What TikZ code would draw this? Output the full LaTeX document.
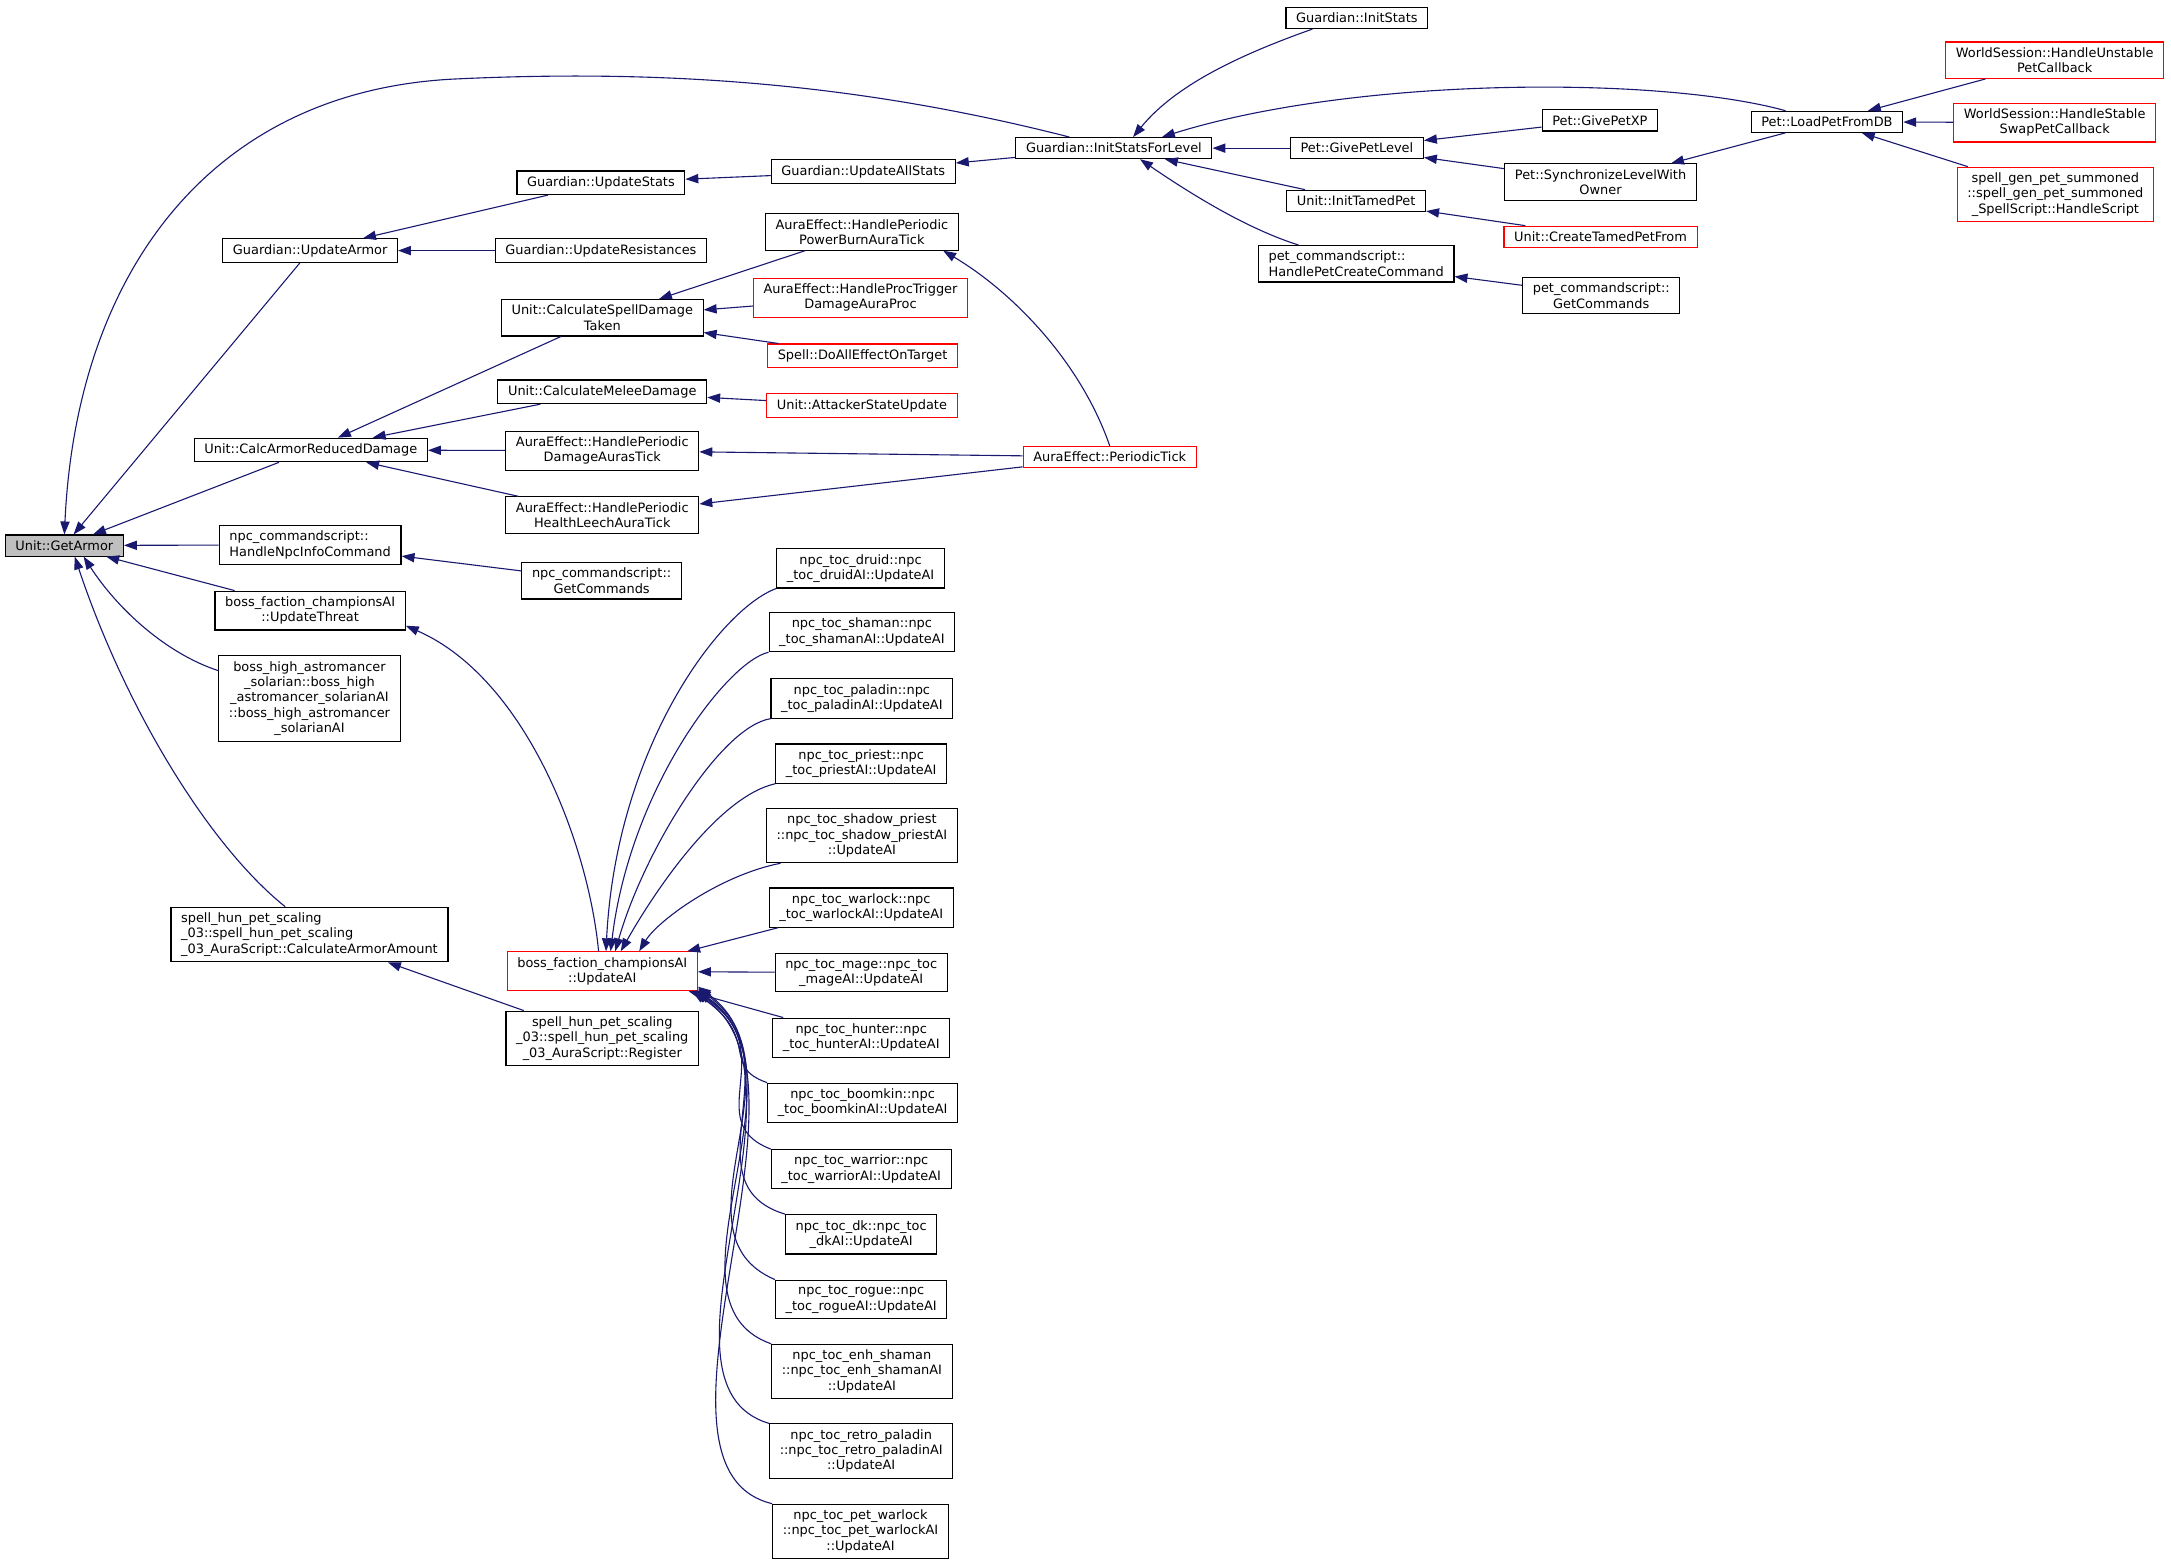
\documentclass[tikz,border=0pt]{standalone}
\usepackage{fontspec}
\setmainfont{DejaVu Sans}
\usetikzlibrary{arrows.meta}
\definecolor{edgeblue}{RGB}{25,25,112}
\definecolor{curgray}{RGB}{191,191,191}

\begin{document}
\begin{tikzpicture}[
        x=0.75pt, y=-0.75pt,
        box/.style={rectangle, draw=black, fill=white, line width=0.6pt, inner xsep=5.5pt, inner ysep=3pt, align=center, font=\fontsize{7}{8.3}\selectfont},
        redbox/.style={box, draw=red},
        curbox/.style={box, fill=curgray},
        arrow/.style={-{Triangle[length=7pt, width=5pt]}, line width=0.6pt, edgeblue}
    ]
        \useasboundingbox (0,0) rectangle (1568,1130);

        % Root
        \node[curbox] (GetArmor) at (46.5,394) {Unit::GetArmor};

        % First level
        \node[box] (UpdateArmor) at (224,181) {Guardian::UpdateArmor};
        \node[box] (CalcArmor) at (224.5,325) {Unit::CalcArmorReducedDamage};
        \node[box, align=left] (NpcInfo) at (224,393.5) {npc\_commandscript::\\HandleNpcInfoCommand};
        \node[box] (UpdateThreat) at (224,441) {boss\_faction\_championsAI\\::UpdateThreat};
        \node[box] (Astromancer) at (223.5,504.5) {boss\_high\_astromancer\\\_solarian::boss\_high\\\_astromancer\_solarianAI\\::boss\_high\_astromancer\\\_solarianAI};
        \node[box, align=left] (ArmorAmount) at (223.5,675) {spell\_hun\_pet\_scaling\\\_03::spell\_hun\_pet\_scaling\\\_03\_AuraScript::CalculateArmorAmount};

        % Second level
        \node[box] (UpdateStats) at (434,132) {Guardian::UpdateStats};
        \node[box] (UpdateRes) at (434,181) {Guardian::UpdateResistances};
        \node[box] (SpellDmgTaken) at (435,229.5) {Unit::CalculateSpellDamage\\Taken};
        \node[box] (MeleeDmg) at (435,283) {Unit::CalculateMeleeDamage};
        \node[box] (DmgAurasTick) at (435,325.5) {AuraEffect::HandlePeriodic\\DamageAurasTick};
        \node[box] (LeechTick) at (435,372) {AuraEffect::HandlePeriodic\\HealthLeechAuraTick};
        \node[box] (NpcGetCmds) at (434.5,419.5) {npc\_commandscript::\\GetCommands};
        \node[redbox] (UpdateAI) at (435,701.5) {boss\_faction\_championsAI\\::UpdateAI};
        \node[box] (Register) at (435,750) {spell\_hun\_pet\_scaling\\\_03::spell\_hun\_pet\_scaling\\\_03\_AuraScript::Register};

        % Third level
        \node[box] (UpdateAllStats) at (623.5,124) {Guardian::UpdateAllStats};
        \node[box] (PowerBurn) at (622.5,167.5) {AuraEffect::HandlePeriodic\\PowerBurnAuraTick};
        \node[redbox] (ProcTrigger) at (621.5,215) {AuraEffect::HandleProcTrigger\\DamageAuraProc};
        \node[redbox] (DoAllEffect) at (623,257) {Spell::DoAllEffectOnTarget};
        \node[redbox] (AttackerState) at (622.5,293) {Unit::AttackerStateUpdate};
        \node[box] (druid) at (621.5,410.5) {npc\_toc\_druid::npc\\\_toc\_druidAI::UpdateAI};
        \node[box] (shaman) at (622.5,456.5) {npc\_toc\_shaman::npc\\\_toc\_shamanAI::UpdateAI};
        \node[box] (paladin) at (622.5,504.5) {npc\_toc\_paladin::npc\\\_toc\_paladinAI::UpdateAI};
        \node[box] (priest) at (622,551.5) {npc\_toc\_priest::npc\\\_toc\_priestAI::UpdateAI};
        \node[box] (shadow) at (622.5,603.5) {npc\_toc\_shadow\_priest\\::npc\_toc\_shadow\_priestAI\\::UpdateAI};
        \node[box] (warlock) at (622,655.5) {npc\_toc\_warlock::npc\\\_toc\_warlockAI::UpdateAI};
        \node[box] (mage) at (622,702.5) {npc\_toc\_mage::npc\_toc\\\_mageAI::UpdateAI};
        \node[box] (hunter) at (622,749.5) {npc\_toc\_hunter::npc\\\_toc\_hunterAI::UpdateAI};
        \node[box] (boomkin) at (623,796.5) {npc\_toc\_boomkin::npc\\\_toc\_boomkinAI::UpdateAI};
        \node[box] (warrior) at (622,844.5) {npc\_toc\_warrior::npc\\\_toc\_warriorAI::UpdateAI};
        \node[box] (dk) at (622,891.5) {npc\_toc\_dk::npc\_toc\\\_dkAI::UpdateAI};
        \node[box] (rogue) at (622,938.5) {npc\_toc\_rogue::npc\\\_toc\_rogueAI::UpdateAI};
        \node[box] (enh) at (622.5,990.5) {npc\_toc\_enh\_shaman\\::npc\_toc\_enh\_shamanAI\\::UpdateAI};
        \node[box] (retro) at (622,1048) {npc\_toc\_retro\_paladin\\::npc\_toc\_retro\_paladinAI\\::UpdateAI};
        \node[box] (petwarlock) at (621.5,1106) {npc\_toc\_pet\_warlock\\::npc\_toc\_pet\_warlockAI\\::UpdateAI};

        % Fourth level
        \node[box] (InitSFL) at (804.5,107) {Guardian::InitStatsForLevel};
        \node[redbox] (PeriodicTick) at (801.5,330) {AuraEffect::PeriodicTick};

        % Fifth level
        \node[box] (InitStats) at (980,13) {Guardian::InitStats};
        \node[box] (GivePetLevel) at (980,107) {Pet::GivePetLevel};
        \node[box] (InitTamedPet) at (979.5,145) {Unit::InitTamedPet};
        \node[box, align=left] (PetCreateCmd) at (979.5,190.5) {pet\_commandscript::\\HandlePetCreateCommand};

        % Sixth level
        \node[box] (GivePetXP) at (1155.5,87) {Pet::GivePetXP};
        \node[box] (SyncLevel) at (1156,131.5) {Pet::SynchronizeLevelWith\\Owner};
        \node[redbox] (CreateTamedPet) at (1156,171) {Unit::CreateTamedPetFrom};
        \node[box] (PetGetCmds) at (1156.5,213.5) {pet\_commandscript::\\GetCommands};

        % Last levels
        \node[box] (LoadPet) at (1319.5,88) {Pet::LoadPetFromDB};
        \node[redbox] (Unstable) at (1484,43.5) {WorldSession::HandleUnstable\\PetCallback};
        \node[redbox] (StableSwap) at (1484,88.5) {WorldSession::HandleStable\\SwapPetCallback};
        \node[redbox] (SpellGenPet) at (1484.5,140.5) {spell\_gen\_pet\_summoned\\::spell\_gen\_pet\_summoned\\\_SpellScript::HandleScript};

        % Callers of Unit::GetArmor
        \draw[arrow] (InitSFL.166) .. controls (620,60) and (480,50) .. (330,57) .. controls (150,65) and (55,200) .. (GetArmor.north);
        \draw[arrow] (UpdateArmor) -- (GetArmor);
        \draw[arrow] (CalcArmor) -- (GetArmor);
        \draw[arrow] (NpcInfo) -- (GetArmor);
        \draw[arrow] (UpdateThreat) -- (GetArmor);
        \draw[arrow] (Astromancer.163) .. controls (120,472) and (85,440) .. (GetArmor.-30);
        \draw[arrow] (ArmorAmount.131) .. controls (150,610) and (90,510) .. (GetArmor.-47);

        % Stats chain
        \draw[arrow] (UpdateStats) -- (UpdateArmor);
        \draw[arrow] (UpdateRes) -- (UpdateArmor);
        \draw[arrow] (UpdateAllStats) -- (UpdateStats);
        \draw[arrow] (InitSFL) -- (UpdateAllStats);
        \draw[arrow] (InitStats.194) .. controls (900,38) and (850,60) .. (InitSFL.30);
        \draw[arrow] (GivePetLevel) -- (InitSFL);
        \draw[arrow] (InitTamedPet) -- (InitSFL);
        \draw[arrow] (PetCreateCmd.162) .. controls (900,165) and (860,140) .. (InitSFL.-23);
        \draw[arrow] (LoadPet.165) .. controls (1200,55) and (980,55) .. (InitSFL.13);
        \draw[arrow] (GivePetXP) -- (GivePetLevel);
        \draw[arrow] (SyncLevel) -- (GivePetLevel);
        \draw[arrow] (LoadPet) -- (SyncLevel);
        \draw[arrow] (CreateTamedPet) -- (InitTamedPet);
        \draw[arrow] (PetGetCmds) -- (PetCreateCmd);
        \draw[arrow] (Unstable) -- (LoadPet);
        \draw[arrow] (StableSwap) -- (LoadPet);
        \draw[arrow] (SpellGenPet) -- (LoadPet);

        % Damage chain
        \draw[arrow] (SpellDmgTaken) -- (CalcArmor);
        \draw[arrow] (MeleeDmg) -- (CalcArmor);
        \draw[arrow] (DmgAurasTick) -- (CalcArmor);
        \draw[arrow] (LeechTick) -- (CalcArmor);
        \draw[arrow] (PowerBurn) -- (SpellDmgTaken);
        \draw[arrow] (ProcTrigger) -- (SpellDmgTaken);
        \draw[arrow] (DoAllEffect) -- (SpellDmgTaken);
        \draw[arrow] (AttackerState) -- (MeleeDmg);
        \draw[arrow] (PeriodicTick) -- (DmgAurasTick);
        \draw[arrow] (PeriodicTick) -- (LeechTick);
        \draw[arrow] (PeriodicTick.north) .. controls (780,260) and (730,210) .. (PowerBurn.-13);

        % Scripts
        \draw[arrow] (NpcGetCmds) -- (NpcInfo);
        \draw[arrow] ([xshift=-2pt]UpdateAI.north) .. controls (425,610) and (380,490) .. (UpdateThreat.-9);
        \draw[arrow] (Register) -- (ArmorAmount);

        % Callers of UpdateAI
        \draw[arrow] (druid.south west) .. controls (520,440) and (445,540) .. ([xshift=2pt]UpdateAI.north);
        \draw[arrow] (shaman.south west) .. controls (525,478) and (455,570) .. ([xshift=4.5pt]UpdateAI.north);
        \draw[arrow] (paladin.south west) .. controls (520,525) and (465,615) .. ([xshift=7pt]UpdateAI.north);
        \draw[arrow] (priest.south west) .. controls (520,575) and (475,640) .. ([xshift=10pt]UpdateAI.north);
        \draw[arrow] ([xshift=8pt]shadow.south west) .. controls (520,632) and (475,665) .. ([xshift=20pt]UpdateAI.north);
        \draw[arrow] ([xshift=5pt]warlock.south west) -- ([xshift=46pt]UpdateAI.north);
        \draw[arrow] (mage) -- (UpdateAI);
        \draw[arrow] ([xshift=6pt]hunter.north west) -- ([xshift=-5pt]UpdateAI.south east);
        \draw[arrow] (boomkin.north west) .. controls (520,770) and (550,750) .. ([xshift=-3pt]UpdateAI.south east);
        \draw[arrow] (warrior.north west) .. controls (505,810) and (565,760) .. (UpdateAI.south east);
        \draw[arrow] (dk.north west) .. controls (495,855) and (575,765) .. ([yshift=1.5pt]UpdateAI.south east);
        \draw[arrow] (rogue.north west) .. controls (480,890) and (585,770) .. ([xshift=-1.5pt]UpdateAI.south east);
        \draw[arrow] (enh.north west) .. controls (470,940) and (590,775) .. ([yshift=2.5pt]UpdateAI.south east);
        \draw[arrow] (retro.north west) .. controls (460,1000) and (595,780) .. ([xshift=-2pt]UpdateAI.south east);
        \draw[arrow] (petwarlock.north west) .. controls (450,1060) and (600,780) .. (UpdateAI.south east);
    \end{tikzpicture}
\end{document}
